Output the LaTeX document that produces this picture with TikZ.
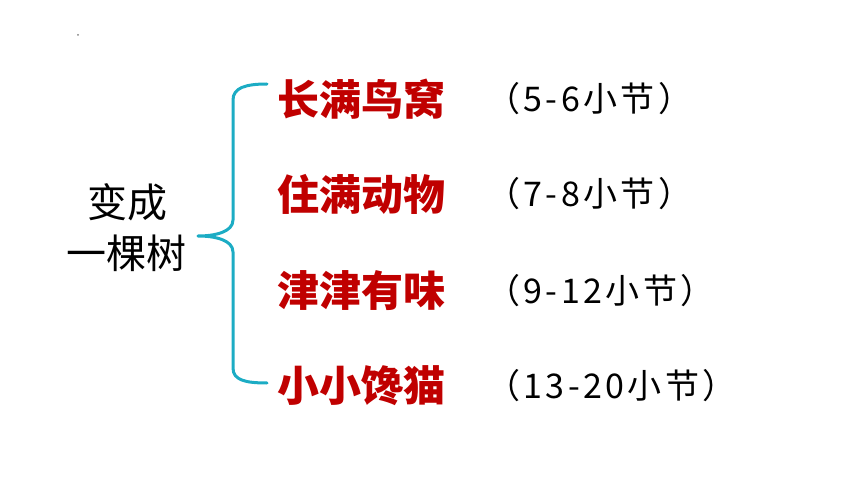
\documentclass[tikz,border=0pt]{standalone}
\usepackage{fontspec}
\newfontfamily\cjk{Noto Sans CJK SC}
\newfontfamily\cjkwide[LetterSpace=10]{Noto Sans CJK SC}
\definecolor{darkred}{RGB}{192,0,0}
\definecolor{bracecyan}{RGB}{28,172,196}
\begin{document}
\begin{tikzpicture}[x=1pt,y=-1pt,
  topic/.style={font=\cjk\fontsize{40}{42}\selectfont, text=black, inner sep=0pt},
  item/.style={font=\cjk\bfseries\fontsize{42}{44}\selectfont, text=darkred, inner sep=0pt},
  part/.style={font=\cjkwide\fontsize{34}{36}\selectfont, text=black, inner sep=0pt, anchor=west},
  bracestyle/.style={draw=bracecyan, line width=3pt, line cap=round, line join=round}]
\useasboundingbox (0,0) rectangle (860,484);
\fill[gray] (78,35) circle (1);
\node[topic] (t1) at (127,202) {变成};
\node[topic] (t2) at (126,253) {一棵树};
\node[item] (i1) at (361,99) {长满鸟窝};
\node[item] (i2) at (361,194) {住满动物};
\node[item] (i3) at (361,291) {津津有味};
\node[item] (i4) at (361,386) {小小馋猫};
\node[part] (p1) at (486,99) {（5-6小节）};
\node[part] (p2) at (486,194) {（7-8小节）};
\node[part] (p3) at (486,291) {（9-12小节）};
\node[part] (p4) at (486,386) {（13-20小节）};
\coordinate (bt) at (267,84);
\coordinate (bb) at (267,383);
\coordinate (bm) at (198,236);
\draw[bracestyle] (bt) .. controls (245,84) and (233,88) .. (233,100) -- (233,220)
  .. controls (233,232) and (215,236) .. (bm)
  .. controls (215,236) and (233,240) .. (233,252) -- (233,368)
  .. controls (233,380) and (245,383) .. (bb);
\end{tikzpicture}
\end{document}
